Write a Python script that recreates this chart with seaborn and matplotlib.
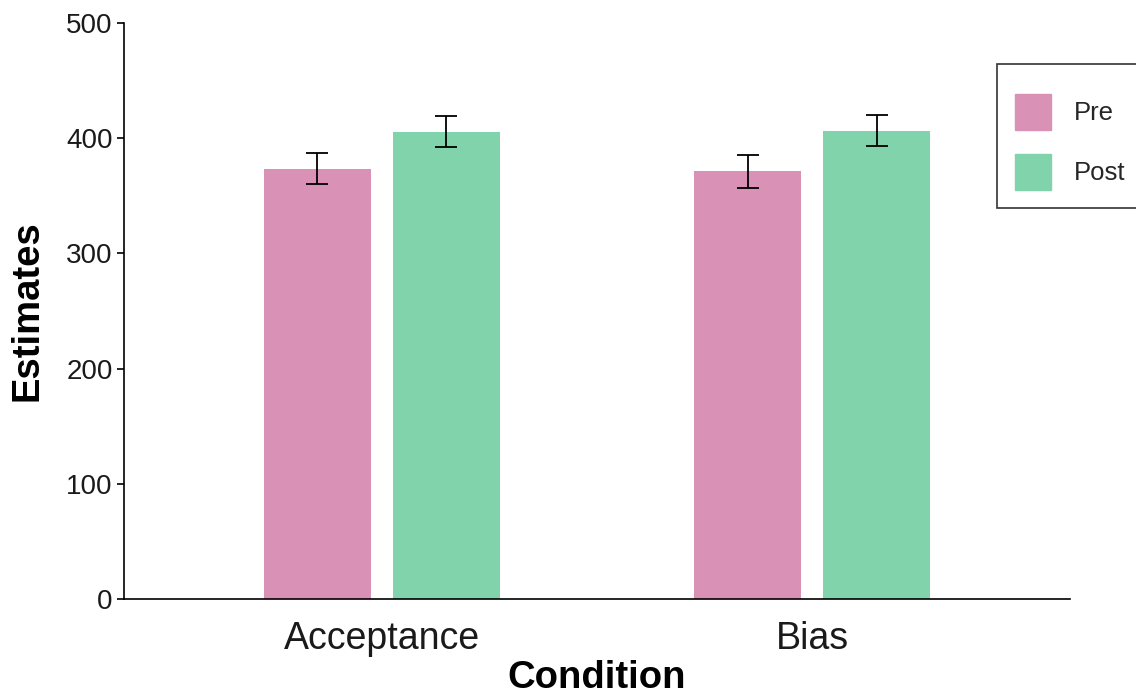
import matplotlib
matplotlib.use("Agg")
import matplotlib.pyplot as plt
import seaborn as sns
import pandas as pd

# Mean estimates and standard errors per condition and time point
conditions = ["Acceptance", "Bias"]
times = ["Pre", "Post"]
pre_means = [373.7, 371.4]
post_means = [405.8, 406.7]
pre_se = [13.5, 14.3]
post_se = [13.4, 13.2]

palette = {"Pre": "#DA91B6", "Post": "#80D3AA"}

df = pd.DataFrame({
    "Condition": conditions * 2,
    "Time": ["Pre"] * 2 + ["Post"] * 2,
    "Estimates": pre_means + post_means,
    "SE": pre_se + post_se,
})

sns.set_theme(style="white")
plt.rcParams["font.family"] = ["Liberation Sans", "DejaVu Sans"]

fig = plt.figure(figsize=(11.36, 6.96), dpi=100)
ax = fig.add_axes([0.109, 0.139, 0.833, 0.828])

sns.barplot(data=df, x="Condition", y="Estimates", hue="Time",
            hue_order=times, order=conditions, palette=palette,
            errorbar=None, width=0.6, gap=1/6, saturation=1,
            linewidth=0, ax=ax, legend=False)

# Standard-error bars at the centre of each bar
for container, t in zip(ax.containers, times):
    sub = df[df["Time"] == t].set_index("Condition").loc[conditions]
    for rect, m, se in zip(container.patches, sub["Estimates"], sub["SE"]):
        cx = rect.get_x() + rect.get_width() / 2
        ax.errorbar(cx, m, yerr=se, color="black", capsize=8,
                    elinewidth=1.3, capthick=1.3, lw=0)

ax.set_xlim(-0.6, 1.6)
ax.set_ylim(0, 500)
ax.set_yticks([0, 100, 200, 300, 400, 500])
ax.tick_params(axis="y", labelsize=20, length=5, width=1.2, color="black",
               left=True, pad=3)
ax.tick_params(axis="x", labelsize=27, length=0, pad=16)
for lab in ax.get_yticklabels() + ax.get_xticklabels():
    lab.set_color("#1a1a1a")

sns.despine(ax=ax)
for s in ["left", "bottom"]:
    ax.spines[s].set_color("black")
    ax.spines[s].set_linewidth(1.2)

ax.set_xlabel("Condition", fontsize=27.5, fontweight="bold", labelpad=2,
              color="black")
ax.set_ylabel("Estimates", fontsize=27.5, fontweight="bold", labelpad=15,
              color="black")

handles = [plt.Rectangle((0, 0), 1, 1, color=palette[t]) for t in times]
leg = fig.legend(handles, times, loc="upper left",
                 bbox_to_anchor=(0.878, 0.908), fontsize=18.5,
                 title=" ", title_fontsize=1,
                 frameon=True, fancybox=False, handlelength=1.40,
                 handleheight=1.78, handletextpad=0.86, labelspacing=0.93,
                 borderpad=0.70, borderaxespad=0)
# tighter gap between the (blank) title row and the entries
leg._legend_box.sep = 8
leg.get_frame().set_edgecolor("black")
leg.get_frame().set_linewidth(1.2)

fig.savefig("out.png", dpi=100)
